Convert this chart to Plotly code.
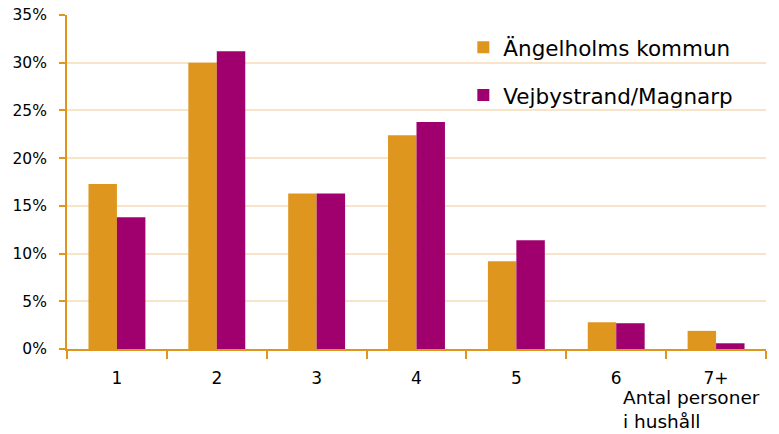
import plotly.graph_objects as go

categories = ["1", "2", "3", "4", "5", "6", "7+"]
angelholm = [0.173, 0.300, 0.163, 0.224, 0.092, 0.028, 0.019]
vejbystrand = [0.138, 0.312, 0.163, 0.238, 0.114, 0.027, 0.006]
y_ticks = [0, 0.05, 0.10, 0.15, 0.20, 0.25, 0.30, 0.35]

ORANGE = "#DF961E"
PURPLE = "#A0006E"
FONT = "DejaVu Sans"

fig = go.Figure()
fig.add_bar(x=categories, y=angelholm, name="Ängelholms kommun",
            marker=dict(color=ORANGE, line=dict(width=0)), legendgroup="a")
fig.add_bar(x=categories, y=vejbystrand, name="Vejbystrand/Magnarp",
            marker=dict(color=PURPLE, line=dict(width=0)), legendgroup="b")

# page body has an 8px margin, so the figure is a bit smaller than the window
fig.update_layout(
    width=771, height=426,
    margin=dict(l=59, r=13, t=7, b=85),
    paper_bgcolor="white", plot_bgcolor="white",
    font=dict(family=FONT, size=16, color="black"),
    barmode="group", bargap=0.43, bargroupgap=0,
    showlegend=True,
    legend=dict(x=0.567, y=0.965, xanchor="left", yanchor="top",
                bgcolor="rgba(0,0,0,0)", font=dict(size=21.5),
                traceorder="grouped", tracegroupgap=17, itemwidth=30),
)
fig.update_xaxes(
    automargin=False,
    showline=True, linecolor=ORANGE, linewidth=2,
    ticks="outside", tickson="boundaries", ticklen=8, tickcolor=ORANGE,
    tickwidth=2, showgrid=False, tickfont=dict(size=17), ticklabelstandoff=13,
)
fig.update_yaxes(
    automargin=False, ticklabeloverflow="allow",
    range=[0, 0.35], tickvals=y_ticks, tickformat=".0%",
    showline=True, linecolor=ORANGE, linewidth=2,
    ticks="outside", ticklen=6, tickcolor=ORANGE, tickwidth=2,
    gridcolor="#F8E4C8", gridwidth=2, zeroline=False,
    tickfont=dict(size=15.5), ticklabelstandoff=9,
)
fig.add_annotation(
    text="Antal personer<br>i hushåll", xref="paper", yref="paper",
    x=0.792, y=-0.107, xanchor="left", yanchor="top", align="left",
    showarrow=False, font=dict(size=18.5),
)

fig.write_html("out.html")
